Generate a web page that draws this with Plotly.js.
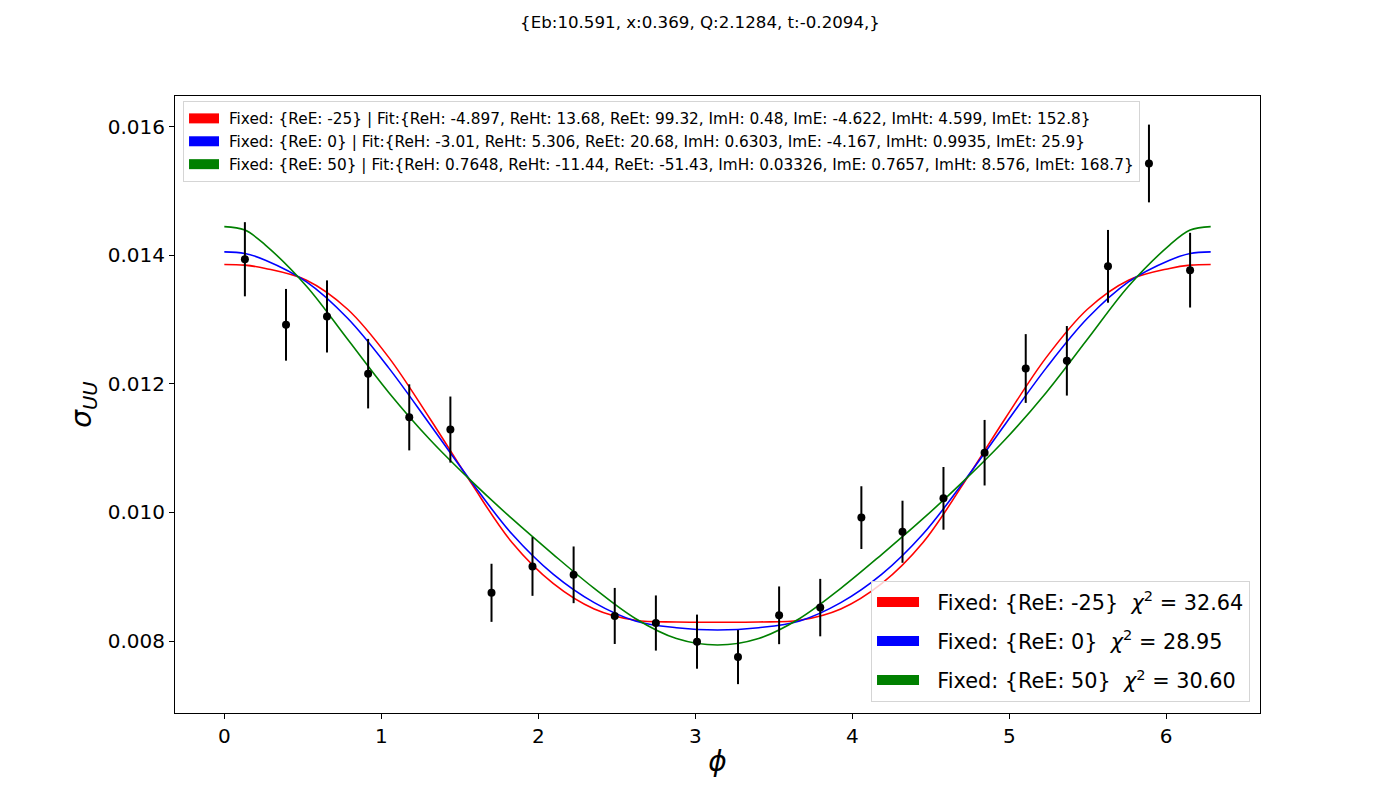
<!DOCTYPE html>
<html>
<head>
<meta charset="utf-8">
<script src="https://cdn.plot.ly/plotly-3.0.1.min.js"></script>
<style>html,body{margin:0;padding:0;background:#fff;}#chart{width:1400px;height:800px;}</style>
</head>
<body>
<div id="chart"></div>
<script>
// ---- data ----
const phiBins = [0.131, 0.393, 0.654, 0.916, 1.178, 1.440, 1.702, 1.963, 2.225, 2.487, 2.749, 3.011,
                 3.272, 3.534, 3.796, 4.058, 4.320, 4.581, 4.843, 5.105, 5.367, 5.629, 5.890, 6.152];
const sigmaUU = [0.01394, 0.01292, 0.01305, 0.01216, 0.01148, 0.01129, 0.00875, 0.00916, 0.00903, 0.00839, 0.00828, 0.00799,
                 0.00775, 0.00840, 0.00852, 0.00992, 0.00970, 0.01022, 0.01093, 0.01224, 0.01236, 0.01383, 0.01543, 0.01377];
const sigmaErr = [0.000577, 0.000558, 0.000561, 0.000541, 0.000514, 0.000514, 0.000452, 0.000457, 0.000441, 0.000436, 0.000429, 0.000421,
                  0.000421, 0.000449, 0.000447, 0.000488, 0.000483, 0.000488, 0.000510, 0.000535, 0.000541, 0.000566, 0.000605, 0.000581];

const curvePhi = [0.0000, 0.1309, 0.2618, 0.5236, 0.7854, 1.0472, 1.3090, 1.5708, 1.8326, 2.0944, 2.3562, 2.6180, 2.8798, 3.1416,
                  3.4034, 3.6652, 3.9270, 4.1888, 4.4506, 4.7124, 4.9742, 5.2360, 5.4978, 5.7596, 6.0214, 6.1523, 6.2832];
const fitRed = [0.013859, 0.013848, 0.013797, 0.013614, 0.013162, 0.012413, 0.011462, 0.010464, 0.009533, 0.008897, 0.008499, 0.008323, 0.008296, 0.008292,
                0.008296, 0.008323, 0.008499, 0.008897, 0.009533, 0.010464, 0.011462, 0.012413, 0.013162, 0.013614, 0.013797, 0.013848, 0.013859];
const fitBlue = [0.014055, 0.014030, 0.013926, 0.013588, 0.013021, 0.012250, 0.011373, 0.010487, 0.009664, 0.009040, 0.008597, 0.008312, 0.008207, 0.008172,
                 0.008207, 0.008312, 0.008597, 0.009040, 0.009664, 0.010487, 0.011373, 0.012250, 0.013021, 0.013588, 0.013926, 0.014030, 0.014055];
const fitGreen = [0.014448, 0.014394, 0.014160, 0.013520, 0.012694, 0.011867, 0.011135, 0.010495, 0.009903, 0.009349, 0.008819, 0.008351, 0.008039, 0.007938,
                  0.008039, 0.008351, 0.008819, 0.009349, 0.009903, 0.010495, 0.011135, 0.011867, 0.012694, 0.013520, 0.014160, 0.014394, 0.014448];

const fitLabels = [
  'Fixed: {ReE: -25} | Fit:{ReH: -4.897, ReHt: 13.68, ReEt: 99.32, ImH: 0.48, ImE: -4.622, ImHt: 4.599, ImEt: 152.8}',
  'Fixed: {ReE: 0} | Fit:{ReH: -3.01, ReHt: 5.306, ReEt: 20.68, ImH: 0.6303, ImE: -4.167, ImHt: 0.9935, ImEt: 25.9}',
  'Fixed: {ReE: 50} | Fit:{ReH: 0.7648, ReHt: -11.44, ReEt: -51.43, ImH: 0.03326, ImE: 0.7657, ImHt: 8.576, ImEt: 168.7}'
];
const fixedLabels = ['Fixed: {ReE: -25}', 'Fixed: {ReE: 0}', 'Fixed: {ReE: 50}'];
const chi2Values = ['32.64', '28.95', '30.60'];
const seriesColors = ['#ff0000', '#0000ff', '#008000'];
const titleText = '{Eb:10.591, x:0.369, Q:2.1284, t:-0.2094,}';

// ---- traces ----
const fits = [fitRed, fitBlue, fitGreen];
const traces = [];
fits.forEach((f, i) => {
  traces.push({
    x: curvePhi, y: f, type: 'scatter', mode: 'lines',
    line: {color: seriesColors[i], width: 1.6, shape: 'spline', smoothing: 1},
    showlegend: false, hoverinfo: 'skip'
  });
});
traces.push({
  x: phiBins, y: sigmaUU, type: 'scatter', mode: 'markers',
  marker: {color: '#000', size: 8},
  error_y: {type: 'data', array: sigmaErr, visible: true, color: '#000', thickness: 2, width: 0},
  showlegend: false
});
// legend entries (top)
fits.forEach((f, i) => {
  traces.push({
    x: [null], y: [null], type: 'scatter', mode: 'lines',
    name: '\u00a0' + fitLabels[i], legend: 'legend', legendgroup: 'a' + i,
    line: {color: seriesColors[i], width: 12}
  });
});
// legend entries (bottom right)
fits.forEach((f, i) => {
  traces.push({
    x: [null], y: [null], type: 'scatter', mode: 'lines',
    name: '\u00a0\u00a0' + fixedLabels[i] + '\u00a0 <i>χ</i><sup>2</sup> = ' + chi2Values[i],
    legend: 'legend2', legendgroup: 'b' + i,
    line: {color: seriesColors[i], width: 15}
  });
});

const font = {family: 'DejaVu Sans, sans-serif', color: '#000'};
const layout = {
  width: 1400, height: 800,
  paper_bgcolor: '#fff', plot_bgcolor: '#fff',
  margin: {l: 175, r: 140, t: 96, b: 87},
  font: Object.assign({size: 14}, font),
  title: {text: titleText, x: 0.5, xref: 'container', y: 0.972, yref: 'container', yanchor: 'middle',
          font: Object.assign({}, font, {size: 16.67})},
  xaxis: {
    range: [-0.3142, 6.5973], tickvals: [0, 1, 2, 3, 4, 5, 6], ticktext: ['0','1','2','3','4','5','6'],
    ticks: 'outside', ticklen: 5, tickwidth: 1, tickcolor: '#000',
    showline: true, linecolor: '#000', linewidth: 1, mirror: true,
    showgrid: false, zeroline: false,
    tickfont: Object.assign({}, font, {size: 20}),
    title: {text: '<i>ϕ</i>', font: Object.assign({}, font, {size: 28}), standoff: 4}
  },
  yaxis: {
    range: [0.00688, 0.01648], tickvals: [0.008, 0.010, 0.012, 0.014, 0.016],
    ticktext: ['0.008', '0.010', '0.012', '0.014', '0.016'],
    ticks: 'outside', ticklen: 5, tickwidth: 1, tickcolor: '#000',
    showline: true, linecolor: '#000', linewidth: 1, mirror: true,
    showgrid: false, zeroline: false,
    tickfont: Object.assign({}, font, {size: 20}),
    title: {text: '<i>σ</i><sub><i>UU</i></sub>', font: Object.assign({}, font, {size: 28}), standoff: 7}
  },
  legend: {
    x: 0.0074, y: 0.992, xanchor: 'left', yanchor: 'top',
    bgcolor: 'rgba(255,255,255,0.8)', bordercolor: '#d5d5d5', borderwidth: 1,
    font: Object.assign({}, font, {size: 15.3}), itemwidth: 30,
    traceorder: 'grouped', tracegroupgap: 0
  },
  legend2: {
    x: 0.9908, y: 0.0178, xanchor: 'right', yanchor: 'bottom',
    bgcolor: 'rgba(255,255,255,0.8)', bordercolor: '#d5d5d5', borderwidth: 1,
    font: Object.assign({}, font, {size: 20.8}), itemwidth: 42,
    traceorder: 'grouped', tracegroupgap: 9
  }
};

Plotly.newPlot('chart', traces, layout, {displayModeBar: false, staticPlot: true});
</script>
</body>
</html>
